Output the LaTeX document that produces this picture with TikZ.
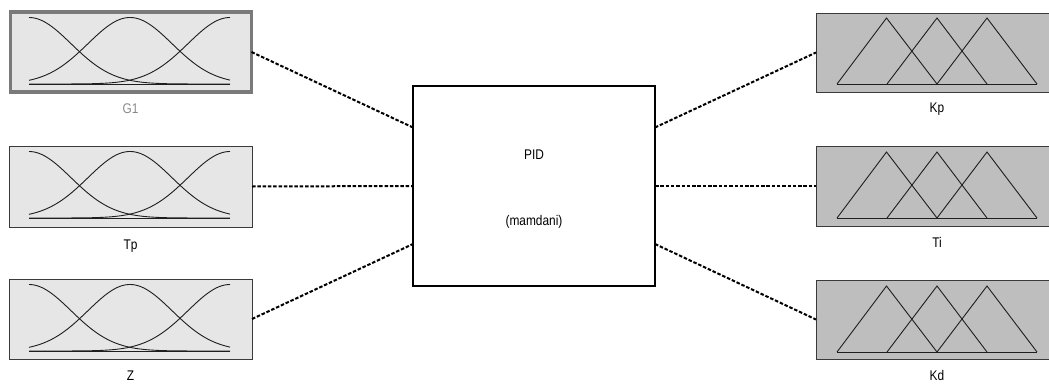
\documentclass[tikz,border=0pt]{standalone}
\usepackage{graphicx}
\usepackage{fontspec}
\setmainfont{Liberation Sans}
\usetikzlibrary{calc}
\definecolor{infill}{HTML}{E6E6E6}
\definecolor{outfill}{HTML}{BEBEBE}
\definecolor{selborder}{HTML}{7A7A7A}
\definecolor{boxborder}{HTML}{3A3A3A}
\definecolor{curvecol}{HTML}{1E1E1E}
\definecolor{sellabel}{HTML}{8A8A8A}
\newcommand\sqz[1]{\scalebox{0.85}[1]{#1}}
\begin{document}
\begin{tikzpicture}[x=1pt,y=-1pt,
  inbox/.style={draw=boxborder, fill=infill, line width=1pt, minimum width=243pt, minimum height=80pt, inner sep=0pt, outer sep=0pt, anchor=north west},
  outbox/.style={draw=boxborder, fill=outfill, line width=1pt, minimum width=250pt, minimum height=79pt, inner sep=0pt, outer sep=0pt, anchor=north west},
  sysbox/.style={draw=black, fill=white, line width=1.8pt, minimum width=242pt, minimum height=200pt, inner sep=0pt, outer sep=0pt, anchor=north west},
  mfcurve/.style={draw=curvecol, line width=0.9pt},
  conn/.style={draw=black, line width=2pt, dash pattern=on 3.5pt off 1.8pt},
  lbl/.style={font=\fontsize{14}{16}\selectfont, text=black, inner sep=0pt, anchor=base}
]
\useasboundingbox (0,0) rectangle (1049,383);
\clip (0,0) rectangle (1049,383);

% input boxes
\node[inbox, line width=3.5pt, draw=selborder, minimum width=241pt] (g1) at (10.5,12) {};
\node[inbox, minimum height=81pt] (tp) at (9,146) {};
\node[inbox] (z) at (9,279) {};
% output boxes
\node[outbox] (kp) at (816,13) {};
\node[outbox, minimum height=80pt] (ti) at (816,146) {};
\node[outbox] (kd) at (816,280) {};
% system box
\node[sysbox] (pid) at (413,86) {};
\node[lbl] (pidt) at (534,159) {\sqz{PID}};
\node[lbl] (pidm) at (534,225) {\sqz{(mamdani)}};

% membership functions (Gaussian) on the inputs
\foreach \T in {12,146,279}{
  \draw[mfcurve] (29,\T+72) -- (230,\T+72);
  \draw[mfcurve] plot[domain=29:230, samples=90, smooth] (\x, {\T+72-66.5*exp(-0.5*((\x-29)/42)^2)});
  \draw[mfcurve] plot[domain=29:230, samples=90, smooth] (\x, {\T+72-66.5*exp(-0.5*((\x-130)/42)^2)});
  \draw[mfcurve] plot[domain=29:230, samples=90, smooth] (\x, {\T+72-66.5*exp(-0.5*((\x-230)/42)^2)});
}
% membership functions (triangular) on the outputs
\foreach \T in {12,146,280}{
  \draw[mfcurve] (837,\T+72) -- (1037,\T+72);
  \draw[mfcurve] (837,\T+72) -- (886.5,\T+6) -- (937,\T+72);
  \draw[mfcurve] (887,\T+72) -- (937,\T+6) -- (987,\T+72);
  \draw[mfcurve] (937,\T+72) -- (987,\T+6) -- (1037,\T+72);
}

% labels
\node[lbl, text=sellabel] (g1l) at (130.5,113) {\sqz{G1}};
\node[lbl] (tpl) at (130.5,249) {\sqz{Tp}};
\node[lbl] (zl) at (130.5,380) {\sqz{Z}};
\node[lbl] (kpl) at (937,112) {\sqz{Kp}};
\node[lbl] (til) at (937,247) {\sqz{Ti}};
\node[lbl] (kdl) at (937,380) {\sqz{Kd}};

% connection points on the system box
\coordinate (pinA) at ([yshift=58.5pt]pid.west);
\coordinate (pinB) at (pid.west);
\coordinate (pinC) at ([yshift=-58pt]pid.west);
\coordinate (poutA) at ([yshift=58.5pt]pid.east);
\coordinate (poutB) at (pid.east);
\coordinate (poutC) at ([yshift=-58pt]pid.east);

\draw[conn] (g1.east) -- (pinA);
\draw[conn] (tp.east) -- (pinB);
\draw[conn] (z.east) -- (pinC);
\draw[conn] (poutA) -- (kp.west);
\draw[conn] (poutB) -- (ti.west);
\draw[conn] (poutC) -- (kd.west);
\end{tikzpicture}
\end{document}
